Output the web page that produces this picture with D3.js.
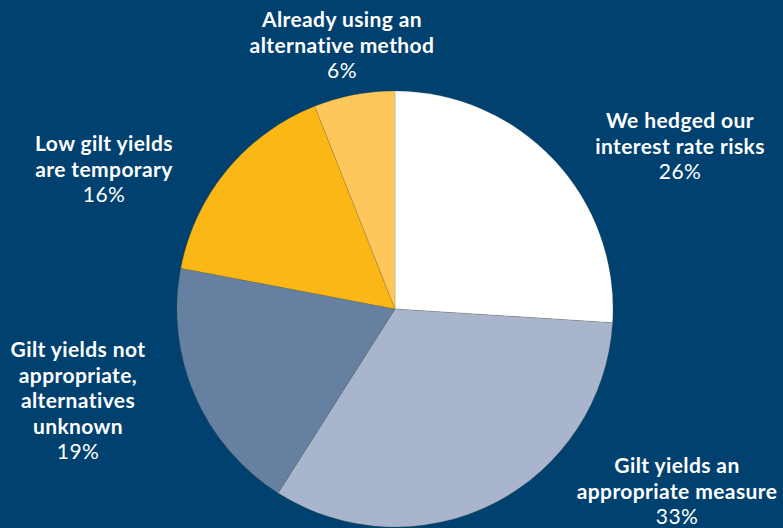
<!DOCTYPE html>
<html>
<head>
<meta charset="utf-8">
<script src="https://cdn.jsdelivr.net/npm/d3@7"></script>
<style>
  html, body { margin: 0; padding: 0; background: #004170; }
  svg { display: block; }
</style>
</head>
<body>
<div id="container"></div>
<script>
// Chart data.
const categories = [
    ['We hedged our', 'interest rate risks'],
    ['Gilt yields an', 'appropriate measure'],
    ['Gilt yields not', 'appropriate,', 'alternatives', 'unknown'],
    ['Low gilt yields', 'are temporary'],
    ['Already using an', 'alternative method']
];
const values = [26, 33, 19, 16, 6];
const valueLabels = ['26%', '33%', '19%', '16%', '6%'];
const colours = ['#ffffff', '#a9b5cc', '#6680a2', '#fbb716', '#fec75b'];

// Where each label block sits (centre x, first baseline y).
const labelPos = [[680, 128], [677, 473], [78, 357], [104, 151], [342, 27]];

window.addEventListener('DOMContentLoaded', (event) => {

    const width = 783, height = 528;
    const cx = 395, cy = 309, radius = 218;

    const svg = d3.select('#container')
        .append('svg')
        .attr('width', width)
        .attr('height', height);

    svg.append('rect')
        .attr('width', width)
        .attr('height', height)
        .attr('fill', '#004170');

    const pie = d3.pie().sort(null).value(d => d);
    const arc = d3.arc().innerRadius(0).outerRadius(radius);

    svg.append('g')
        .attr('transform', `translate(${cx},${cy})`)
        .selectAll('path')
        .data(pie(values))
        .enter()
        .append('path')
        .attr('d', arc)
        .attr('fill', (d, i) => colours[i])
        .attr('stroke', 'rgba(120,100,40,0.35)')
        .attr('stroke-width', 0.6);

    const lineH = 25.5;

    categories.forEach((lines, i) => {
        const [x, y] = labelPos[i];
        const t = svg.append('text')
            .attr('x', x)
            .attr('y', y)
            .attr('text-anchor', 'middle')
            .attr('fill', '#ffffff')
            .style('font-family', 'Lato, "Open Sans", sans-serif')
            .style('font-size', '21px')
            .style('letter-spacing', '0.4px');

        lines.forEach((l, j) => {
            t.append('tspan')
                .attr('x', x)
                .attr('dy', j === 0 ? 0 : lineH)
                .style('font-weight', 'bold')
                .text(l);
        });

        t.append('tspan')
            .attr('x', x)
            .attr('dy', lineH)
            .style('font-weight', 'normal')
            .text(valueLabels[i]);
    });

}); // end of document ready
</script>
</body>
</html>
